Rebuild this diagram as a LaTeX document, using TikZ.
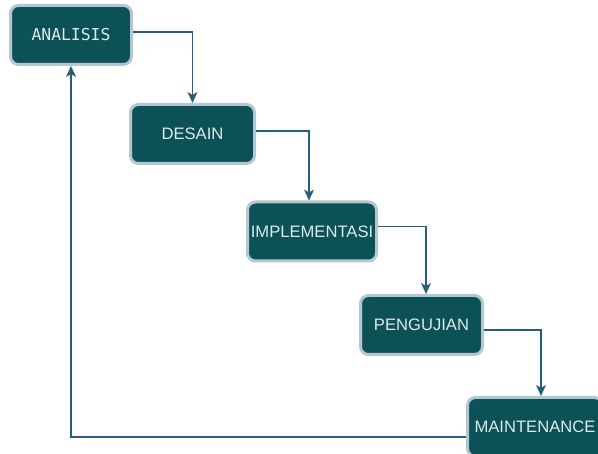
\documentclass[tikz,border=0pt]{standalone}
\usepackage{fontspec}
\setmainfont{Liberation Sans}
\newfontfamily\stagemono{DejaVu Sans Mono}
\usetikzlibrary{arrows.meta}
\definecolor{stagefill}{HTML}{0B5155}
\definecolor{stageedge}{HTML}{B3C6D2}
\definecolor{stagetext}{HTML}{DCEAEA}
\definecolor{flowline}{HTML}{265F7E}
\tikzset{
  stage/.style={draw=stageedge, line width=3pt, fill=stagefill, rounded corners=8pt,
    text=stagetext, font=\fontsize{16.6}{19}\selectfont, inner sep=0pt,
    minimum height=59pt},
  flow/.style={draw=flowline, line width=1.3pt,
    -{Stealth[length=11pt,width=10pt,inset=3pt]}}
}
\begin{document}
\begin{tikzpicture}[x=1pt,y=-1pt]
  \useasboundingbox (0,0) rectangle (598,454);
  \clip (0,0) rectangle (598,454);
  % stages of the waterfall
  \node[stage, minimum width=121pt, font=\stagemono\fontsize{16.4}{19}\selectfont] (analisis) at (71,35) {ANALISIS};
  \node[stage, minimum width=124pt] (desain) at (192.5,134) {DESAIN};
  \node[stage, minimum width=129pt] (impl) at (312,231.5) {IMPLEMENTASI};
  \node[stage, minimum width=122pt] (uji) at (421.5,325) {PENGUJIAN};
  \node[stage, minimum width=135pt] (maint) at (535,427) {MAINTENANCE};
  % step-down connectors
  \draw[flow] ([yshift=3pt]analisis.east) -| (desain.north);
  \draw[flow] ([yshift=3pt]desain.east) -| ([xshift=-3pt]impl.north);
  \draw[flow] ([yshift=5pt]impl.east) -| ([xshift=4.5pt]uji.north);
  \draw[flow] ([yshift=-5pt]uji.east) -| ([xshift=6pt]maint.north);
  % feedback loop
  \draw[flow] ([yshift=-10pt]maint.west) -| (analisis.south);
\end{tikzpicture}
\end{document}
